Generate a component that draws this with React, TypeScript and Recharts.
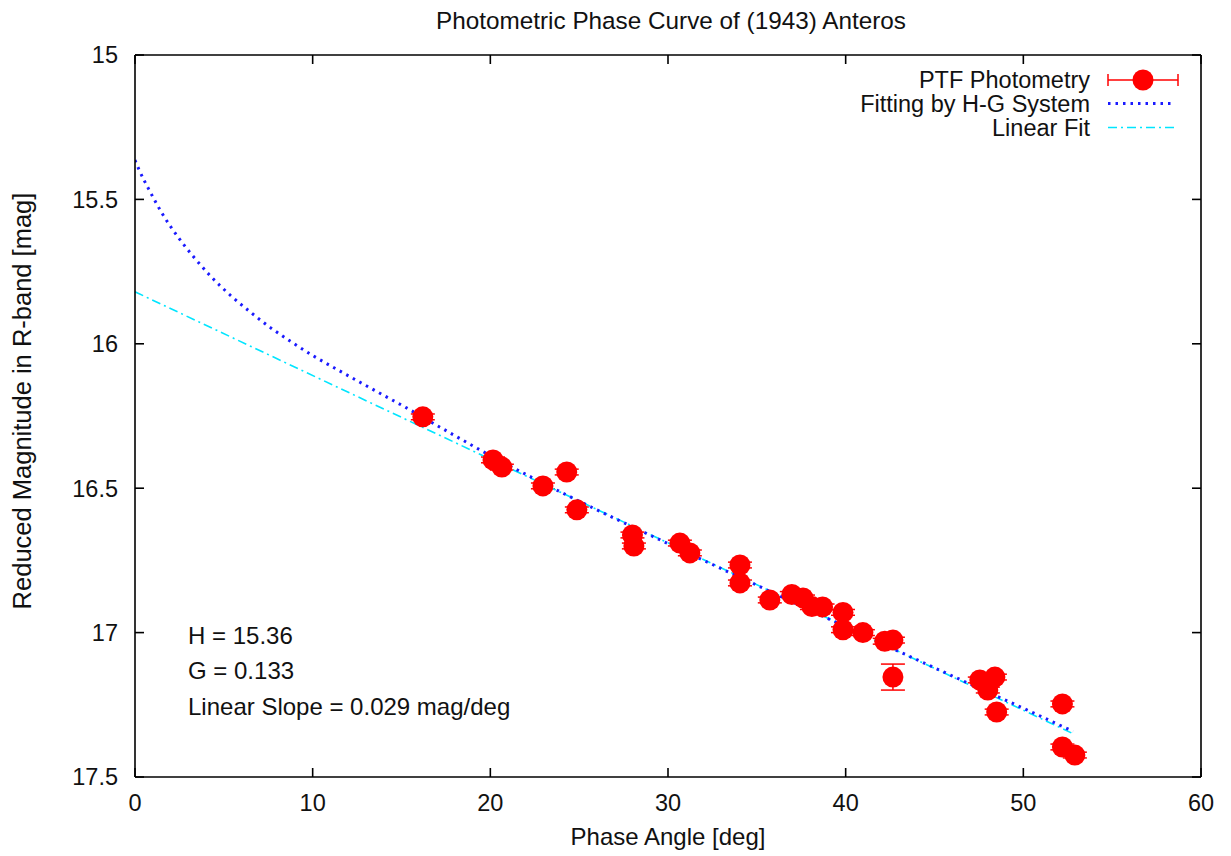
// App.tsx — phase curve of (1943) Anteros: PTF photometry, H-G fit and linear fit.
// Ticks point inward on all four sides, like the gnuplot original, so the
// axes draw their own tick marks through custom tick components.

import { ComposedChart, Scatter, Line, XAxis, YAxis, ErrorBar } from 'recharts';

const W = 1231;
const H = 856;
const FONT = '"Liberation Sans", Arial, Helvetica, sans-serif';
const TXT = '#111';
const FS = 23.5;
const TICK_LEN = 9;

// plot box: margins + axis sizes put it at x 135..1201, y 55..777
const X_AXIS_H = 79;
const Y_AXIS_W = 135;
const AXIS_Y = H - X_AXIS_H;

// PTF photometry
const phaseAngle = [
  16.2, 20.15, 20.65, 22.96, 24.3, 24.87, 28.0, 28.08, 30.67, 31.23, 34.05, 34.05,
  35.73, 36.97, 37.6, 38.1, 38.7, 39.85, 39.85, 40.97, 42.2, 42.66, 42.66, 47.55,
  48.0, 48.4, 48.5, 52.2, 52.2, 52.9,
];
const reducedMag = [
  16.253, 16.402, 16.427, 16.492, 16.444, 16.575, 16.662, 16.7, 16.69, 16.724, 16.766, 16.828,
  16.887, 16.868, 16.88, 16.91, 16.911, 16.93, 16.99, 17.0, 17.03, 17.026, 17.154, 17.164,
  17.199, 17.154, 17.275, 17.247, 17.396, 17.424,
];
const magError = [
  0.01, 0.01, 0.01, 0.01, 0.01, 0.01, 0.01, 0.01, 0.01, 0.01, 0.01, 0.01,
  0.01, 0.01, 0.01, 0.01, 0.01, 0.01, 0.01, 0.01, 0.01, 0.01, 0.045, 0.01,
  0.01, 0.01, 0.01, 0.01, 0.01, 0.01,
];

// H-G system fit, sampled along the dotted curve
const hgAngle = [
  0, 0.19, 0.88, 1.59, 2.44, 3.34, 4.26, 5.35, 6.47, 7.6, 8.82, 10.04, 11.35, 12.66,
  13.98, 15.2, 16.3, 18, 20, 22.5, 25, 30, 35, 40, 45, 50, 52.8,
];
const hgMag = [
  15.364, 15.392, 15.477, 15.555, 15.632, 15.702, 15.766, 15.831, 15.889, 15.943, 15.994,
  16.042, 16.088, 16.133, 16.178, 16.219, 16.258, 16.318, 16.387, 16.468, 16.545, 16.692,
  16.836, 16.98, 17.122, 17.262, 17.342,
];

// linear fit end points
const linAngle = [0, 52.8];
const linMag = [15.82, 17.35];

const xTicks = [0, 10, 20, 30, 40, 50, 60];
const yTicks = [15, 15.5, 16, 16.5, 17, 17.5];

const points = phaseAngle.map((x, i) => ({ x, y: reducedMag[i], err: magError[i] }));
const hgCurve = hgAngle.map((x, i) => ({ x, y: hgMag[i] }));
const linCurve = linAngle.map((x, i) => ({ x, y: linMag[i] }));

const axisStyle = { stroke: '#000', strokeWidth: 1.6 };
const tickText = { fontSize: FS, fill: TXT, fontFamily: FONT };

const BottomTick = (p: any) => (
  <g>
    <line x1={p.x} x2={p.x} y1={AXIS_Y} y2={AXIS_Y - TICK_LEN} {...axisStyle} />
    <text x={p.x} y={AXIS_Y + 34} textAnchor="middle" {...tickText}>
      {p.payload.value}
    </text>
  </g>
);

const LeftTick = (p: any) => (
  <g>
    <line x1={Y_AXIS_W} x2={Y_AXIS_W + TICK_LEN} y1={p.y} y2={p.y} {...axisStyle} />
    <text x={Y_AXIS_W - 17} y={p.y} dy="0.355em" textAnchor="end" {...tickText}>
      {p.payload.value}
    </text>
  </g>
);

const TopTick = (p: any) => (
  <line x1={p.x} x2={p.x} y1={p.y} y2={p.y + TICK_LEN} {...axisStyle} />
);

const RightTick = (p: any) => (
  <line x1={p.x} x2={p.x - TICK_LEN} y1={p.y} y2={p.y} {...axisStyle} />
);

const RedDot = (p: any) => <circle cx={p.cx} cy={p.cy} r={10.5} fill="#ff0000" />;

function Overlay() {
  const t = { fontFamily: FONT, fill: TXT, fontSize: FS } as const;
  const legendX = 1090;
  const symL = 1108;
  const symR = 1178;
  return (
    <svg
      width={W}
      height={H}
      style={{ position: 'absolute', left: 0, top: 0, pointerEvents: 'none' }}
    >
      <text {...t} fontSize={24.3} x={671} y={20} textAnchor="middle" dominantBaseline="central">
        Photometric Phase Curve of (1943) Anteros
      </text>
      <text {...t} fontSize={24} x={668} y={836} textAnchor="middle" dominantBaseline="central">
        Phase Angle [deg]
      </text>
      <text
        {...t}
        fontSize={25.5}
        x={22}
        y={401}
        textAnchor="middle"
        dominantBaseline="central"
        transform="rotate(-90 22 401)"
      >
        Reduced Magnitude in R-band [mag]
      </text>

      {/* fit parameters */}
      <text {...t} fontSize={24} x={188} y={635} dominantBaseline="central">H = 15.36</text>
      <text {...t} fontSize={24} x={188} y={670} dominantBaseline="central">G = 0.133</text>
      <text {...t} fontSize={24} x={188} y={706} dominantBaseline="central">Linear Slope = 0.029 mag/deg</text>

      {/* legend */}
      <text {...t} x={legendX} y={80} textAnchor="end" dominantBaseline="central">PTF Photometry</text>
      <line x1={symL} x2={symR} y1={80} y2={80} stroke="#ff0000" strokeWidth={1.5} />
      <line x1={symL} x2={symL} y1={74} y2={86} stroke="#ff0000" strokeWidth={1.5} />
      <line x1={symR} x2={symR} y1={74} y2={86} stroke="#ff0000" strokeWidth={1.5} />
      <circle cx={1143} cy={80} r={10.5} fill="#ff0000" />

      <text {...t} x={legendX} y={103.5} textAnchor="end" dominantBaseline="central">Fitting by H-G System</text>
      <line x1={symL} x2={symR - 5} y1={103.5} y2={103.5} stroke="#1a1aff" strokeWidth={3} strokeDasharray="2.5 5" />

      <text {...t} x={legendX} y={127.5} textAnchor="end" dominantBaseline="central">Linear Fit</text>
      <line x1={symL} x2={symR} y1={127.5} y2={127.5} stroke="#00e5ff" strokeWidth={1.6} strokeDasharray="9 4 2 4" />
    </svg>
  );
}

export default function App() {
  return (
    <div style={{ position: 'absolute', left: 0, top: 0, width: W, height: H, background: '#fff' }}>
      <ComposedChart width={W} height={H} margin={{ top: 54, right: 29, bottom: 0, left: 0 }}>
        <XAxis
          type="number"
          dataKey="x"
          domain={[0, 60]}
          ticks={xTicks}
          interval={0}
          allowDataOverflow
          height={X_AXIS_H}
          tickSize={0}
          axisLine={axisStyle}
          tickLine={false}
          tick={BottomTick}
        />
        <XAxis
          xAxisId="top"
          orientation="top"
          type="number"
          dataKey="x"
          domain={[0, 60]}
          ticks={xTicks}
          interval={0}
          allowDataOverflow
          height={1}
          tickSize={0}
          tickMargin={0}
          axisLine={axisStyle}
          tickLine={false}
          tick={TopTick}
        />
        <YAxis
          type="number"
          dataKey="y"
          domain={[15, 17.5]}
          reversed
          ticks={yTicks}
          interval={0}
          allowDataOverflow
          width={Y_AXIS_W}
          tickSize={0}
          axisLine={axisStyle}
          tickLine={false}
          tick={LeftTick}
        />
        <YAxis
          yAxisId="right"
          orientation="right"
          type="number"
          dataKey="y"
          domain={[15, 17.5]}
          reversed
          ticks={yTicks}
          interval={0}
          allowDataOverflow
          width={1}
          tickSize={0}
          tickMargin={0}
          axisLine={axisStyle}
          tickLine={false}
          tick={RightTick}
        />

        <Scatter data={points} dataKey="y" fill="#ff0000" shape={RedDot} isAnimationActive={false}>
          <ErrorBar dataKey="err" direction="y" width={12} stroke="#ff0000" strokeWidth={1.5} />
        </Scatter>
        <Line
          data={linCurve}
          dataKey="y"
          type="linear"
          stroke="#00e5ff"
          strokeWidth={1.6}
          strokeDasharray="9 4 2 4"
          dot={false}
          activeDot={false}
          isAnimationActive={false}
        />
        <Line
          data={hgCurve}
          dataKey="y"
          type="monotone"
          stroke="#1a1aff"
          strokeWidth={3}
          strokeDasharray="2.5 5"
          dot={false}
          activeDot={false}
          isAnimationActive={false}
        />
      </ComposedChart>
      <Overlay />
    </div>
  );
}
